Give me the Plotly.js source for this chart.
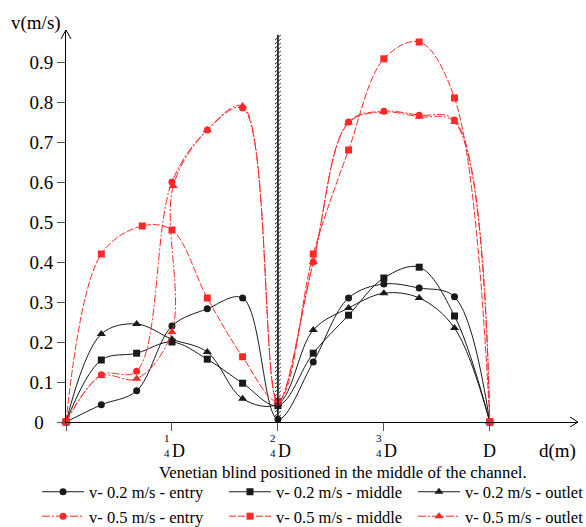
<!DOCTYPE html>
<html>
<head>
<meta charset="utf-8">
<script src="https://cdn.plot.ly/plotly-3.0.1.min.js"></script>
<style>html,body{margin:0;padding:0;background:#fff;}#chart{width:586px;height:527px;}</style>
</head>
<body>
<div id="chart"></div>
<script>
// d / D positions of the measurement points
const xPos = [0, 1/12, 2/12, 3/12, 4/12, 5/12, 6/12, 7/12, 8/12, 9/12, 10/12, 11/12, 1];
const xRedMiddle = [0, 1/12, 0.18, 3/12, 4/12, 5/12, 6/12, 7/12, 8/12, 9/12, 10/12, 11/12, 1];
const xRedOutlet = [0, 1/12, 2/12, 3/12, 0.253, 4/12, 5/12, 6/12, 7/12, 8/12, 9/12, 10/12, 11/12, 1];

// velocities v (m/s)
const blackEntry  = [0, 0.043, 0.078, 0.24, 0.283, 0.31, 0.007, 0.15, 0.31, 0.345, 0.335, 0.313, 0];
const blackMiddle = [0, 0.155, 0.172, 0.20, 0.157, 0.097, 0.041, 0.172, 0.267, 0.36, 0.387, 0.265, 0];
const blackOutlet = [0, 0.22, 0.245, 0.207, 0.175, 0.058, 0.045, 0.23, 0.285, 0.322, 0.31, 0.235, 0];
const redEntry    = [0, 0.118, 0.127, 0.60, 0.73, 0.785, 0.05, 0.40, 0.75, 0.777, 0.767, 0.755, 0];
const redMiddle   = [0, 0.42, 0.49, 0.48, 0.31, 0.163, 0.052, 0.42, 0.68, 0.908, 0.95, 0.81, 0];
const redOutlet   = [0, 0.115, 0.108, 0.225, 0.59, 0.73, 0.79, 0.05, 0.40, 0.748, 0.775, 0.763, 0.75, 0];

const seriesNames = ['v- 0.2 m/s - entry', 'v- 0.2 m/s - middle', 'v- 0.2 m/s - outlet',
                     'v- 0.5 m/s - entry', 'v- 0.5 m/s - middle', 'v- 0.5 m/s - outlet'];

const yTickVals = [0, 0.1, 0.2, 0.3, 0.4, 0.5, 0.6, 0.7, 0.8, 0.9];
const yTickText = ['0\u00a0\u00a0', '0.1', '0.2', '0.3', '0.4', '0.5', '0.6', '0.7', '0.8', '0.9'];
const xTickVals = [0, 0.25, 0.5, 0.75, 1];
const xFracNum = ['', '1', '2', '3', ''];
const xFracDen = ['', '4', '4', '4', ''];
const xTickLetter = ['', 'D', 'D', 'D', 'D'];

const SERIF = 'Liberation Serif, Times New Roman, serif';
const BLK = '#1a1a1a';
const RED = 'rgb(255,40,40)';

function tr(x, y, name, color, symbol, size, dash, legendId) {
  return {
    x: x, y: y, name: name, type: 'scatter', mode: 'lines+markers', legend: legendId,
    line: {shape: 'spline', smoothing: 1, color: color, width: 1, dash: dash},
    marker: {symbol: symbol, size: size, color: color},
    cliponaxis: false
  };
}

const data = [
  tr(xPos, blackEntry, seriesNames[0], BLK, 'circle', 7, 'solid', 'legend'),
  tr(xPos, blackMiddle, seriesNames[1], BLK, 'square', 7, 'solid', 'legend2'),
  tr(xPos, blackOutlet, seriesNames[2], BLK, 'triangle-up', 8, 'solid', 'legend3'),
  tr(xPos, redEntry, seriesNames[3], RED, 'circle', 7, '8px,2px,2px,2px', 'legend'),
  tr(xRedMiddle, redMiddle, seriesNames[4], RED, 'square', 7, '7px,2px', 'legend2'),
  tr(xRedOutlet, redOutlet, seriesNames[5], RED, 'triangle-up', 8, '8px,2px,2px,2px', 'legend3')
];

const annotations = [];
function ann(x, xref, text, xshift, yshift, size) {
  annotations.push({x: x, xref: xref, y: 0, yref: 'paper', text: text, showarrow: false,
    xanchor: 'center', yanchor: 'middle', xshift: xshift, yshift: yshift,
    font: {family: SERIF, size: size, color: '#000'}});
}
xTickVals.forEach((v, i) => {
  if (xFracNum[i]) {
    ann(v, 'x', xFracNum[i], -5, -16, 11);
    ann(v, 'x', xFracDen[i], -5, -31, 11);
    ann(v, 'x', xTickLetter[i], 7, -29, 18);
  } else if (xTickLetter[i]) {
    ann(v, 'x', xTickLetter[i], 0, -29, 18);
  }
});
annotations.push({x: 1, xref: 'paper', xanchor: 'right', y: 0, yref: 'paper', yanchor: 'middle', text: 'd(m)',
  showarrow: false, xshift: 0, yshift: -29, font: {family: SERIF, size: 19, color: '#000'}});
annotations.push({x: 0, xref: 'paper', xanchor: 'center', y: 1, yref: 'paper', yanchor: 'middle', text: 'v(m/s)',
  showarrow: false, xshift: -30, yshift: 7, font: {family: SERIF, size: 19, color: '#000'}});
annotations.push({x: 0.541, xref: 'paper', xanchor: 'center', y: 0, yref: 'paper', yanchor: 'middle',
  text: 'Venetian blind positioned in the middle of the channel.', showarrow: false,
  yshift: -50, font: {family: SERIF, size: 16.8, color: '#000'}});

// decorations: axis arrows and hatched blind line
const shapes = [
  {type: 'path', xref: 'paper', yref: 'paper', xsizemode: 'pixel', ysizemode: 'pixel', xanchor: 0, yanchor: 1,
   path: 'M-5,-9 L0,0 L5,-9', line: {color: '#000', width: 1}},
  {type: 'path', xref: 'paper', yref: 'paper', xsizemode: 'pixel', ysizemode: 'pixel', xanchor: 1, yanchor: 0,
   path: 'M-8,5 L0,0 L-8,-5', line: {color: '#000', width: 1}},
  {type: 'line', xref: 'x', yref: 'y', x0: 0.5, x1: 0.5, y0: 0, y1: 0.968, line: {color: '#000', width: 1.5}}
];
let hp = '';
for (let p = 2; p < 386; p += 4) {
  hp += 'M-3,' + p + ' L3,' + (p + 5) + ' ';
}
shapes.push({type: 'path', xref: 'x', yref: 'y', xsizemode: 'pixel', ysizemode: 'pixel', xanchor: 0.5, yanchor: 0,
  path: hp, line: {color: '#333', width: 1}});

function leg(x) {
  return {orientation: 'v', x: x, xanchor: 'left', y: -0.134, yanchor: 'top', itemwidth: 42,
    font: {family: SERIF, size: 16.5, color: '#000'}, bgcolor: 'rgba(0,0,0,0)', tracegroupgap: 0};
}

const layout = {
  width: 586, height: 527,
  margin: {l: 66, r: 8, t: 30, b: 105, pad: 0, autoexpand: false},
  paper_bgcolor: '#fff', plot_bgcolor: '#fff',
  showlegend: true,
  xaxis: {range: [0, 1.208], showgrid: false, zeroline: false, showline: true, linecolor: '#000', linewidth: 1,
    tickmode: 'array', tickvals: xTickVals, ticktext: ['', '', '', '', ''], ticks: 'outside', ticklen: 8,
    tickcolor: '#555', tickwidth: 1, fixedrange: true},
  yaxis: {range: [0, 0.98], showgrid: false, zeroline: false, showline: true, linecolor: '#000', linewidth: 1,
    tickmode: 'array', tickvals: yTickVals, ticktext: yTickText, ticks: 'outside', ticklen: 8,
    tickcolor: '#555', tickwidth: 1, tickfont: {family: SERIF, size: 19, color: '#000'}, fixedrange: true},
  legend: leg(-0.0566),
  legend2: leg(0.3086),
  legend3: leg(0.6777),
  annotations: annotations,
  shapes: shapes
};

Plotly.newPlot('chart', data, layout, {staticPlot: true, displayModeBar: false});
</script>
</body>
</html>
